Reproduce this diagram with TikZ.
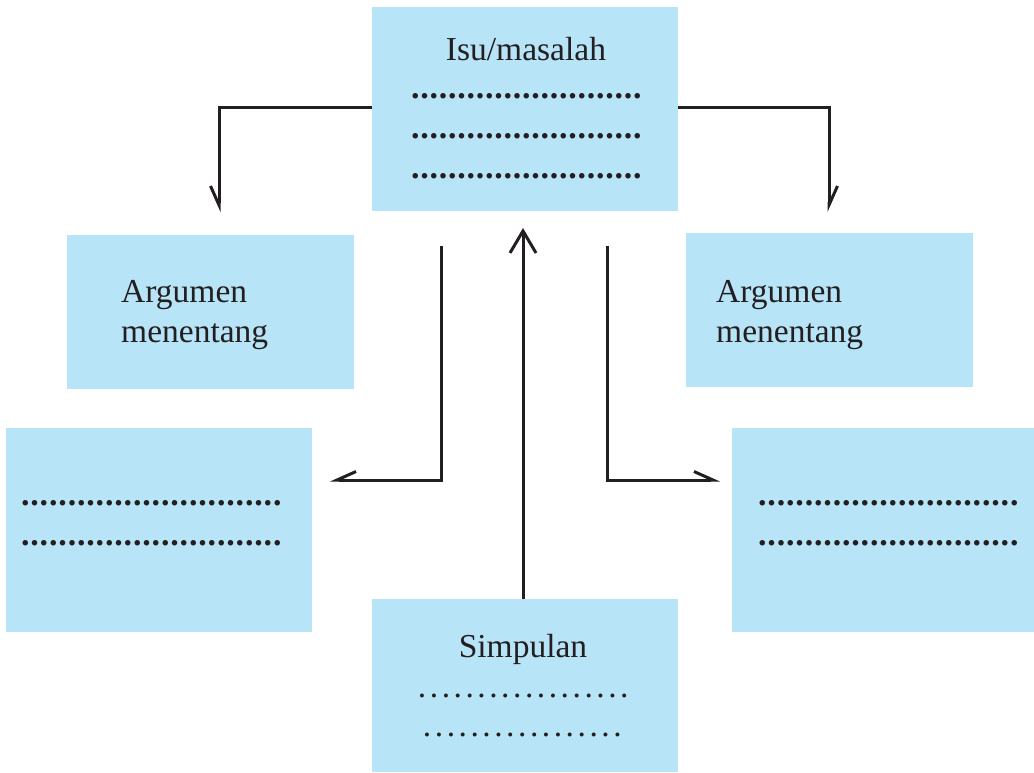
\documentclass[tikz,border=0pt]{standalone}
\usepackage{fontspec}
\setmainfont{Liberation Serif}
\usetikzlibrary{arrows.meta}
\definecolor{boxblue}{HTML}{B8E4F8}
\definecolor{ink}{HTML}{231F20}
\newcommand{\dotrow}[2]{\foreach \i in {1,...,#1}{\makebox[#2]{.}}}
\begin{document}
\begin{tikzpicture}[x=1pt,y=-1pt,
  bx/.style={fill=boxblue,draw=none,inner sep=0pt,minimum width=#1},
  txt/.style={font=\fontsize{33.5}{40}\selectfont,text=ink,inner sep=0pt,anchor=base west},
  ctxt/.style={font=\fontsize{33.5}{40}\selectfont,text=ink,inner sep=0pt,anchor=base},
  dtxt/.style={font=\fontsize{34}{40}\selectfont\bfseries,text=ink,inner sep=0pt,anchor=base west},
  conn/.style={draw=ink,line width=3pt},
  halfL/.style={-{Straight Barb[harpoon,swap,length=19pt,width=17pt,line width=3pt]}},
  halfR/.style={-{Straight Barb[harpoon,length=19pt,width=17pt,line width=3pt]}},
  full/.style={-{Straight Barb[length=22pt,width=26pt,line width=3pt]}}]
\useasboundingbox (0,0) rectangle (1034,772);
% boxes
\node[bx=306pt,minimum height=204pt] (top) at (525,109) {};
\node[bx=287pt,minimum height=154pt] (argL) at (210.5,312) {};
\node[bx=287pt,minimum height=154pt] (argR) at (829.5,310) {};
\node[bx=306pt,minimum height=204pt] (dotL) at (159,530) {};
\node[bx=302pt,minimum height=204pt] (dotR) at (883,530) {};
\node[bx=306pt,minimum height=173pt] (simp) at (525,685.5) {};
% texts
\node[ctxt] (topT) at (526,60) {Isu/masalah};
\node[dtxt] (topD1) at (410.5,98) {\dotrow{25}{9.25pt}};
\node[dtxt] (topD2) at (410.5,138) {\dotrow{25}{9.25pt}};
\node[dtxt] (topD3) at (410.5,178) {\dotrow{25}{9.25pt}};
\node[txt] (argLT1) at (121,302) {Argumen};
\node[txt] (argLT2) at (121,342) {menentang};
\node[txt] (argRT1) at (716,302) {Argumen};
\node[txt] (argRT2) at (716,342) {menentang};
\node[dtxt] (dotL1) at (20.5,505) {\dotrow{28}{9.33pt}};
\node[dtxt] (dotL2) at (20.5,545) {\dotrow{28}{9.33pt}};
\node[dtxt] (dotR1) at (757.5,505) {\dotrow{28}{9.33pt}};
\node[dtxt] (dotR2) at (757.5,545) {\dotrow{28}{9.33pt}};
\node[ctxt] (simpT) at (523,657) {Simpulan};
\node[txt] (simpD1) at (416,697) {\dotrow{18}{11.9pt}};
\node[txt] (simpD2) at (421,736) {\dotrow{17}{11.9pt}};
% connector end points
\coordinate (tipL) at (219,212);
\coordinate (tipR) at (829,212);
\coordinate (tipC) at (523,228);
\coordinate (startML) at (441,246);
\coordinate (tipML) at (330,480);
\coordinate (startMR) at (607,246);
\coordinate (tipMR) at (720,480);
% connectors
\draw[conn,halfL] (top.west |- 0,107) -| (tipL);
\draw[conn,halfR] (top.east |- 0,107) -| (tipR);
\draw[conn,full] (simp.north -| tipC) -- (tipC);
\draw[conn,halfL] (startML) |- (tipML);
\draw[conn,halfR] (startMR) |- (tipMR);
\end{tikzpicture}
\end{document}
